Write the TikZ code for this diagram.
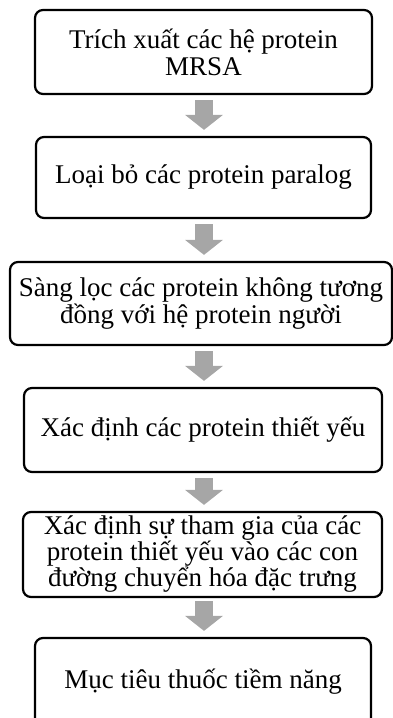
\documentclass[tikz,border=0pt]{standalone}
\usepackage{fontspec}
\setmainfont{Liberation Serif}
\usetikzlibrary{arrows.meta,calc}
\definecolor{arrgray}{HTML}{A6A6A6}
\begin{document}
\begin{tikzpicture}[x=1pt,y=-1pt,
  stepbox/.style={draw=black, line width=2.2pt, rounded corners=8pt, align=center,
    inner sep=0pt, font=\fontsize{27}{27}\selectfont},
  flowarrow/.style={draw=arrgray, line width=18pt,
    -{Triangle[width=37pt,length=15pt]}, shorten <=5pt, shorten >=6pt}]
\useasboundingbox (0,0) rectangle (393,718);
\node[stepbox, minimum width=337pt, minimum height=84pt] (b1) at (203.5,52) {Trích xuất các hệ protein\\MRSA};
\node[stepbox, minimum width=335pt, minimum height=81pt] (b2) at (203.5,177.5) {Loại bỏ các protein paralog};
\node[stepbox, minimum width=382pt, minimum height=83pt] (b3) at (201,303.5) {Sàng lọc các protein không tương\\đồng với hệ protein người};
\node[stepbox, minimum width=358pt, minimum height=84pt] (b4) at (203,430) {Xác định các protein thiết yếu};
\node[stepbox, minimum width=359pt, minimum height=85pt, font=\fontsize{27}{26}\selectfont] (b5) at (202.5,554.5) {Xác định sự tham gia của các\\protein thiết yếu vào các con\\đường chuyển hóa đặc trưng};
\node[stepbox, minimum width=336pt, minimum height=88pt] (b6) at (203,682) {Mục tiêu thuốc tiềm năng};
\draw[flowarrow] (b1.south -| 204,0) -- (b2.north -| 204,0);
\draw[flowarrow] (b2.south -| 204,0) -- (b3.north -| 204,0);
\draw[flowarrow] (b3.south -| 204,0) -- (b4.north -| 204,0);
\draw[flowarrow] (b4.south -| 204,0) -- (b5.north -| 204,0);
\draw[flowarrow, shorten <=3pt] (b5.south -| 204,0) -- (b6.north -| 204,0);
\end{tikzpicture}
\end{document}
